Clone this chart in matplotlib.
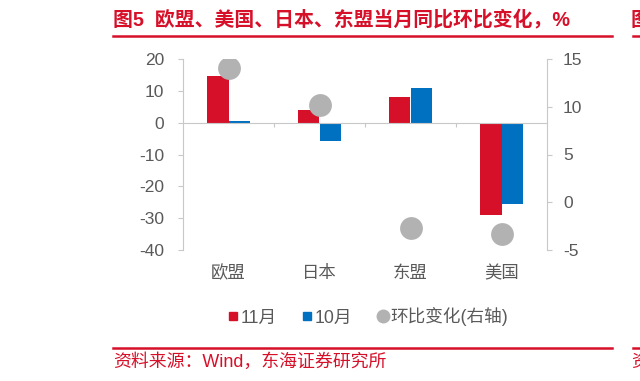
import matplotlib
matplotlib.use("Agg")
import matplotlib.pyplot as plt
from matplotlib.lines import Line2D
from matplotlib.transforms import blended_transform_factory

plt.rcParams['font.family'] = ['Liberation Sans', 'Noto Sans CJK SC', 'DejaVu Sans']
plt.rcParams['axes.unicode_minus'] = False

# data
regions = ['欧盟', '日本', '东盟', '美国']
nov = [14.8, 4.1, 8.1, -29.0]
octo = [0.6, -5.9, 11.0, -25.4]
mom = [14.1, 10.2, -2.7, -3.35]
left_ticks = [20, 10, 0, -10, -20, -30, -40]
right_ticks = [15, 10, 5, 0, -5]

RED = '#D7102A'
BLUE = '#0070C0'
GREY = '#B2B2B2'
AXC = '#C8C8C8'
TXT = '#595959'

fig = plt.figure(figsize=(6.4, 3.81), dpi=100)
ax = fig.add_axes([183 / 640, 1 - 250 / 381, (547 - 183) / 640, (250 - 59) / 381])

x = list(range(len(regions)))
w = 0.24
ax.bar([i - w / 2 for i in x], nov, width=w, color=RED, zorder=2)
ax.bar([i + w / 2 for i in x], octo, width=w, color=BLUE, zorder=2)
ax.set_xlim(-0.5, 3.5)
ax.set_ylim(-40, 20)
ax.set_yticks(left_ticks)
ax.tick_params(axis='y', colors=AXC, labelcolor=TXT, labelsize=12.5, length=3.5, width=0.8, pad=10)

for s in ['top', 'right']:
    ax.spines[s].set_visible(False)
ax.spines['left'].set_color(AXC)
ax.spines['bottom'].set_position(('data', 0))
ax.spines['bottom'].set_color(AXC)
ax.set_xticks([0.5, 1.5, 2.5])
ax.set_xticklabels([])
ax.tick_params(axis='x', colors=AXC, length=3, width=0.8)

tr = blended_transform_factory(ax.transData, ax.transAxes)
for i, name in enumerate(regions):
    ax.text(i, -0.12, name, transform=tr, ha='center', va='center', fontsize=12.5, color=TXT)

ax2 = ax.twinx()
ax2.scatter(x, mom, s=270, color=GREY, zorder=3, linewidths=0)
ax2.set_ylim(-5, 15)
ax2.set_yticks(right_ticks)
ax2.tick_params(axis='y', colors=AXC, labelcolor=TXT, labelsize=12.5, length=3.5, width=0.8, pad=8)
for s in ['top', 'left', 'bottom']:
    ax2.spines[s].set_visible(False)
ax2.spines['right'].set_color(AXC)

handles = [
    Line2D([], [], marker='s', color=RED, linestyle='none', markersize=5.5),
    Line2D([], [], marker='s', color=BLUE, linestyle='none', markersize=5.5),
    Line2D([], [], marker='o', color=GREY, linestyle='none', markersize=9),
]
fig.legend(handles, ['11月', '10月', '环比变化(右轴)'], loc='center', bbox_to_anchor=(368 / 640, 1 - 317 / 381),
           ncol=3, frameon=False, fontsize=12.7, handlelength=0.6, handletextpad=0.15, columnspacing=1.4,
           labelcolor=TXT)

# title, header line, source
fig.text(113 / 640, 1 - 20 / 381, '图5  欧盟、美国、日本、东盟当月同比环比变化，%', fontsize=14.3,
         fontweight='bold', color=RED, ha='left', va='center')
fig.add_artist(Line2D([113 / 640, 612 / 640], [1 - 36 / 381] * 2, color=RED, linewidth=1.8))
fig.add_artist(Line2D([113 / 640, 612 / 640], [1 - 348 / 381] * 2, color=RED, linewidth=1.8))
fig.text(113 / 640, 1 - 362 / 381, '资料来源：Wind，东海证券研究所', fontsize=12.9, color=RED, ha='left', va='center')

# edge of the neighbouring chart
fig.text(631 / 640, 1 - 20 / 381, '图', fontsize=14.3, fontweight='bold', color=RED, ha='left', va='center')
fig.add_artist(Line2D([633 / 640, 1.0], [1 - 36 / 381] * 2, color=RED, linewidth=1.8))
fig.add_artist(Line2D([633 / 640, 1.0], [1 - 348 / 381] * 2, color=RED, linewidth=1.8))
fig.text(631 / 640, 1 - 362 / 381, '资', fontsize=12.9, color=RED, ha='left', va='center')

fig.savefig('out.png', dpi=100)
